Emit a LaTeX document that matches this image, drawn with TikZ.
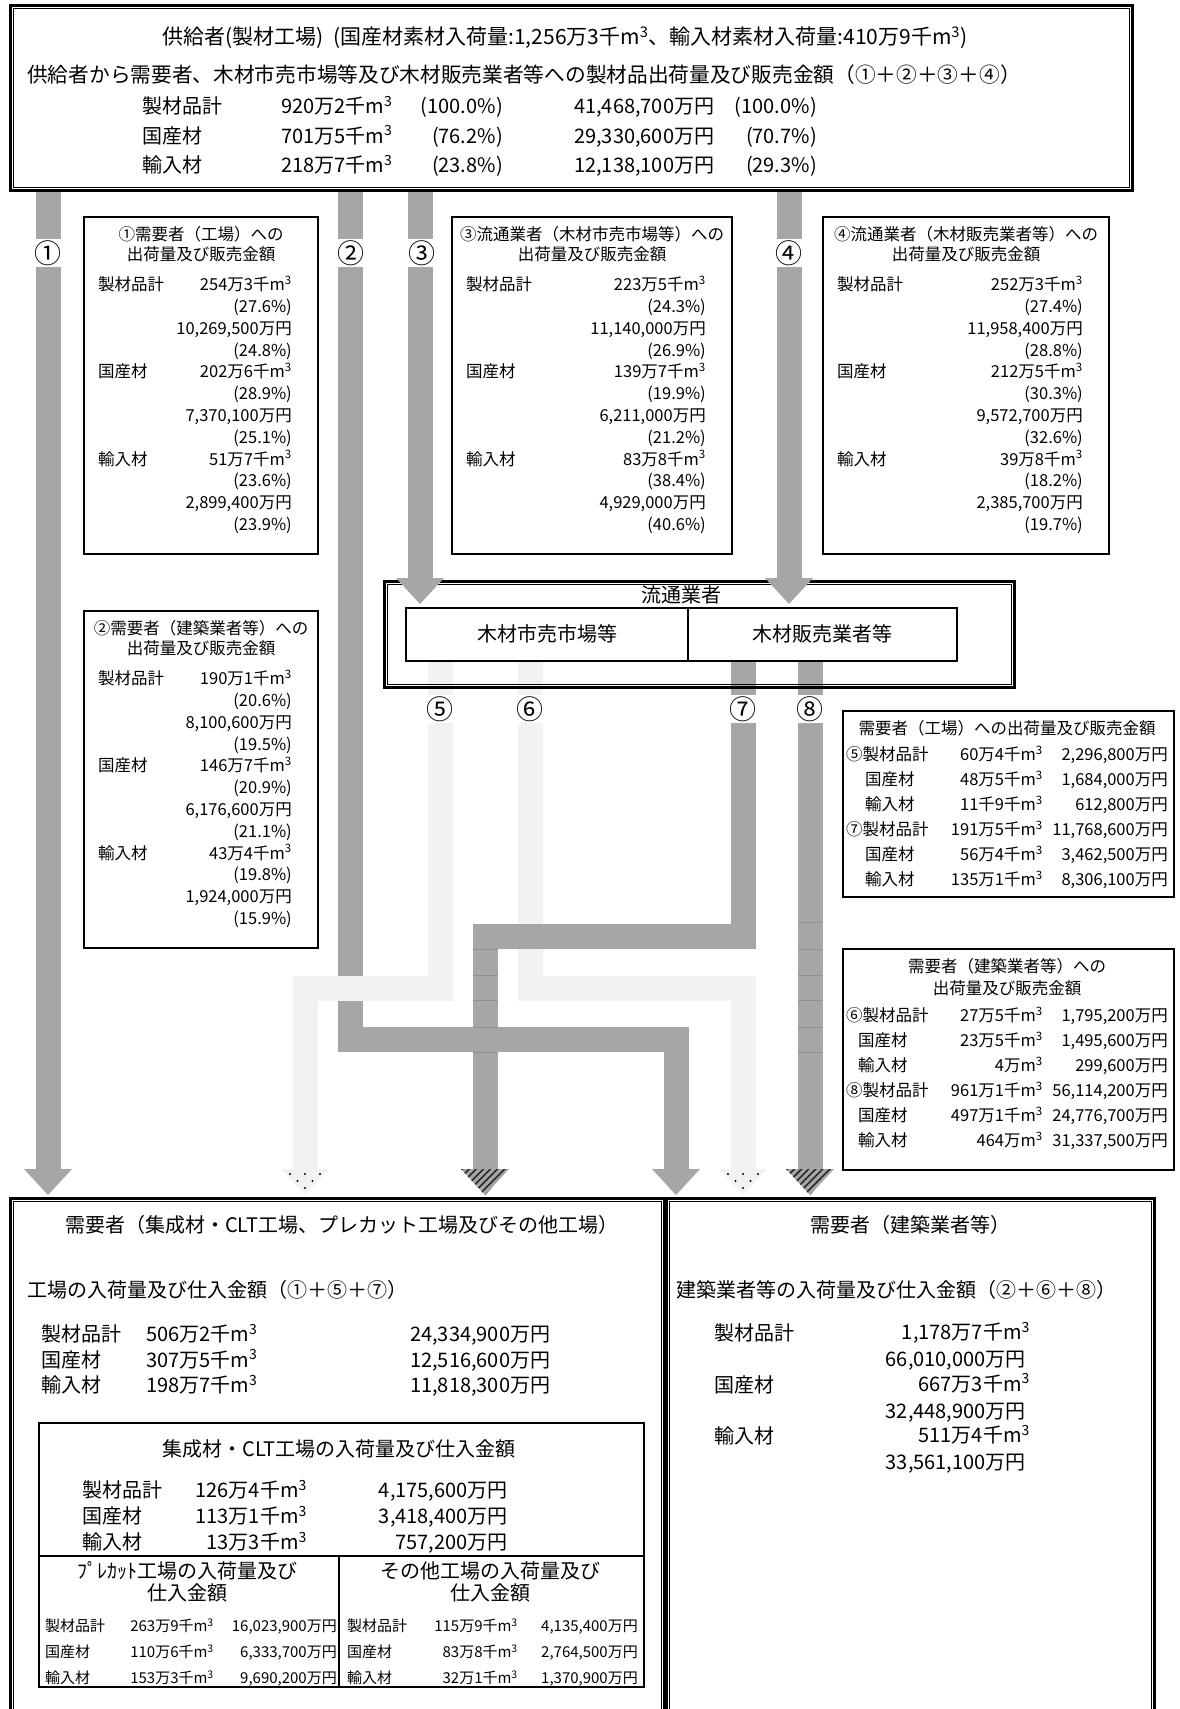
\documentclass[tikz,border=0pt]{standalone}
\usepackage{fontspec}
\setmainfont{Noto Sans CJK JP}
\usetikzlibrary{calc,patterns.meta}

\definecolor{flowgray}{HTML}{A6A6A6}
\definecolor{flowlight}{HTML}{F2F2F2}
\definecolor{seamgray}{HTML}{8F8F8F}

\tikzset{
  flow/.style={draw=flowgray, line width=25pt},
  flowlt/.style={draw=flowlight, line width=25pt},
  seam/.style={draw=seamgray, line width=0.8pt},
  plainbox/.style={draw, line width=2pt, inner sep=0pt, anchor=north west},
  dblbox/.style={draw, line width=3pt, inner sep=0pt, anchor=north west},
  txt/.style={inner sep=0pt, text height=0.75em, text depth=0.2em, yshift=-4pt},
  fa/.style={txt, font=\fontsize{20}{24}\selectfont},
  fb/.style={txt, font=\fontsize{16.5}{20}\selectfont},
  fc/.style={txt, font=\fontsize{15}{18}\selectfont},
  numlbl/.style={fill=white, inner sep=1pt, font=\fontsize{27}{30}\selectfont}
}

\newcommand{\mc}{m\textsuperscript{3}}
% thin inner line of a double framed box
\newcommand{\innerline}[1]{\draw[line width=1pt] ([shift={(4.5,4.5)}]#1.north west) rectangle ([shift={(-4.5,-4.5)}]#1.south east);}
% arrow heads at the end of a flow
\newcommand{\headsolid}[1]{\fill[flowgray] ($(#1)+(-24,0)$) -- ($(#1)+(24,0)$) -- ($(#1)+(0,26)$) -- cycle;}
\newcommand{\headdots}[1]{\fill[flowlight] ($(#1)+(-24,0)$) -- ($(#1)+(24,0)$) -- ($(#1)+(0,26)$) -- cycle;
  \foreach \dx/\dy in {-15/5,0/5,15/5,-7.5/12,7.5/12,0/19} \fill ($(#1)+(\dx,\dy)$) circle (1.1pt);}
\newcommand{\headhatch}[1]{\fill[flowgray] ($(#1)+(-24,0)$) -- ($(#1)+(24,0)$) -- ($(#1)+(0,26)$) -- cycle;
  \fill[pattern={Lines[angle=45,distance=5pt,line width=1.6pt]}, pattern color=black!85] ($(#1)+(-24,0)$) -- ($(#1)+(24,0)$) -- ($(#1)+(0,26)$) -- cycle;}
% shipment box: name, left, top, width, title, rows
\newcommand{\shipbox}[6]{%
  \node[plainbox, minimum width=#4, minimum height=337] (#1) at (#2,#3) {};
  \node[fb] (#1h) at ($(#1.north)+(0,18)$) {#5};
  \node[fb] (#1s) at ($(#1.north)+(0,38)$) {出荷量及び販売金額};
  \foreach \lab/\vol/\pa/\mon/\pb [count=\k from 0] in {#6} {
    \node[fb, anchor=west] (#1l\k) at ($(#1.north west)+(15,{68+87.2*\k})$) {\lab};
    \node[fb, anchor=east] (#1v\k) at ($(#1.north east)+(-27,{68+87.2*\k})$) {\vol\mc};
    \node[fb, anchor=east] (#1p\k) at ($(#1.north east)+(-27,{89.8+87.2*\k})$) {(\pa\%)};
    \node[fb, anchor=east] (#1m\k) at ($(#1.north east)+(-27,{111.6+87.2*\k})$) {\mon{}万円};
    \node[fb, anchor=east] (#1q\k) at ($(#1.north east)+(-27,{133.4+87.2*\k})$) {(\pb\%)};
  }}

\begin{document}
\begin{tikzpicture}[x=1pt, y=-1pt]
\clip (0,0) rectangle (1179,1709);
% flow points
\coordinate (c1a) at (48,189);  \coordinate (c1b) at (48,1169);
\coordinate (c2a) at (350,189); \coordinate (c2b) at (350,1039);
\coordinate (c2c) at (676,1039); \coordinate (c2d) at (676,1169);
\coordinate (c3a) at (420,189); \coordinate (c3b) at (420,578);
\coordinate (c4a) at (789,189); \coordinate (c4b) at (789,578);
\coordinate (c5a) at (440,660); \coordinate (c5b) at (440,988);
\coordinate (c5c) at (305,988); \coordinate (c5d) at (305,1169);
\coordinate (c6a) at (530,660); \coordinate (c6b) at (530,988);
\coordinate (c6c) at (743,988); \coordinate (c6d) at (743,1169);
\coordinate (c7a) at (743,660); \coordinate (c7b) at (743,936);
\coordinate (c7c) at (485,936); \coordinate (c7d) at (485,1169);
\coordinate (c8a) at (810,660); \coordinate (c8b) at (810,1169);

% flows
\draw[flow] (c2a) -- (c2b) -- (c2c) -- (c2d);
\draw[flowlt] (c5a) -- (c5b) -- (c5c) -- (c5d);
\draw[flowlt] (c6a) -- (c6b) -- (c6c) -- (c6d);
\draw[flow] (c7a) -- (c7b) -- (c7c) -- (c7d);
\draw[flow] (c8a) -- (c8b);
\draw[flow] (c1a) -- (c1b);
\draw[flow] (c3a) -- (c3b);
\draw[flow] (c4a) -- (c4b);
\foreach \yy in {922,949,975,1000,1027,1052} \draw[seam] (798,\yy) -- (822,\yy);
\foreach \yy in {949,975,1000,1027,1052} \draw[seam] (472.5,\yy) -- (497.5,\yy);
\headsolid{c1b} \headsolid{c2d}
\headdots{c5d} \headdots{c6d}
\headhatch{c7d} \headhatch{c8b}

% supplier
\node[dblbox, minimum width=1122, minimum height=185] (sup) at (9,4) {};
\innerline{sup}
\node[fa, font=\fontsize{21}{24}\selectfont] (supt) at (565,38) {供給者(製材工場)\ \ (国産材素材入荷量:1,256万3千\mc、輸入材素材入荷量:410万9千\mc)};
\node[fa, anchor=west, font=\fontsize{20.7}{24}\selectfont] (supl) at (27,76) {供給者から需要者、木材市売市場等及び木材販売業者等への製材品出荷量及び販売金額（①＋②＋③＋④）};
\foreach \lab/\vol/\pa/\mon/\pb [count=\k from 0] in {製材品計/920万2千/100.0/{41,468,700}/100.0, 国産材/701万5千/76.2/{29,330,600}/70.7, 輸入材/218万7千/23.8/{12,138,100}/29.3}
{
\node[fa, anchor=west] (supl\k) at (142,{107+29.5*\k}) {\lab};
\node[fa, anchor=west] (supv\k) at (281,{107+29.5*\k}) {\vol\mc};
\node[fa, anchor=east] (supp\k) at (503,{107+29.5*\k}) {(\pa\%)};
\node[fa, anchor=west] (supm\k) at (574,{107+29.5*\k}) {\mon{}万円};
\node[fa, anchor=east] (supq\k) at (817,{107+29.5*\k}) {(\pb\%)};
}

% shipment boxes
\shipbox{b1}{83}{216}{234}{①需要者（工場）への}{製材品計/254万3千/27.6/{10,269,500}/24.8, 国産材/202万6千/28.9/{7,370,100}/25.1, 輸入材/51万7千/23.6/{2,899,400}/23.9}
\shipbox{b2}{83}{610}{234}{②需要者（建築業者等）への}{製材品計/190万1千/20.6/{8,100,600}/19.5, 国産材/146万7千/20.9/{6,176,600}/21.1, 輸入材/43万4千/19.8/{1,924,000}/15.9}
\shipbox{b3}{451}{216}{280}{③流通業者（木材市売市場等）への}{製材品計/223万5千/24.3/{11,140,000}/26.9, 国産材/139万7千/19.9/{6,211,000}/21.2, 輸入材/83万8千/38.4/{4,929,000}/40.6}
\shipbox{b4}{822}{216}{286}{④流通業者（木材販売業者等）への}{製材品計/252万3千/27.4/{11,958,400}/28.8, 国産材/212万5千/30.3/{9,572,700}/32.6, 輸入材/39万8千/18.2/{2,385,700}/19.7}

% distributors
\node[dblbox, minimum width=630, minimum height=106] (dist) at (383,580) {};
\innerline{dist}
\node[fa] (distt) at (681,596) {流通業者};
\node[plainbox, minimum width=282, minimum height=53] (mkt) at (405,607) {};
\node[plainbox, minimum width=269, minimum height=53] (dlr) at (687,607) {};
\node[fa] (mktt) at (mkt.center) {木材市売市場等};
\node[fa] (dlrt) at (dlr.center) {木材販売業者等};
\headsolid{c3b} \headsolid{c4b}

% flow numbers
\foreach \n/\lbl/\px/\py in {n1/①/48/253, n2/②/351/253, n3/③/422/253, n4/④/789/253, n5/⑤/440/709, n6/⑥/530/709, n7/⑦/743/709, n8/⑧/810/709}
\node[numlbl] (\n) at (\px,\py) {\lbl};

% to factories (5, 7)
\node[plainbox, minimum width=331, minimum height=186] (fac) at (842,710) {};
\node[fb] (fach) at (1007,728) {需要者（工場）への出荷量及び販売金額};
\foreach \lx/\lab/\vol/\mon [count=\k from 0] in {846/⑤製材品計/60万4千/{2,296,800}, 865/国産材/48万5千/{1,684,000}, 865/輸入材/11千9千/{612,800}, 846/⑦製材品計/191万5千/{11,768,600}, 865/国産材/56万4千/{3,462,500}, 865/輸入材/135万1千/{8,306,100}}
{
\node[fb, anchor=west] (facl\k) at (\lx,{754+25*\k}) {\lab};
\node[fb, anchor=east] (facv\k) at (1043,{754+25*\k}) {\vol\mc};
\node[fb, anchor=east] (facm\k) at (1168,{754+25*\k}) {\mon{}万円};
}

% to builders (6, 8)
\node[plainbox, minimum width=331, minimum height=221] (bld) at (842,948) {};
\node[fb] (bldh) at (1007,966) {需要者（建築業者等）への};
\node[fb] (blds) at (1007,988) {出荷量及び販売金額};
\foreach \lx/\lab/\vol/\mon [count=\k from 0] in {846/⑥製材品計/27万5千/{1,795,200}, 858/国産材/23万5千/{1,495,600}, 858/輸入材/4万/{299,600}, 846/⑧製材品計/961万1千/{56,114,200}, 858/国産材/497万1千/{24,776,700}, 858/輸入材/464万/{31,337,500}}
{
\node[fb, anchor=west] (bldl\k) at (\lx,{1015+25*\k}) {\lab};
\node[fb, anchor=east] (bldv\k) at (1043,{1015+25*\k}) {\vol\mc};
\node[fb, anchor=east] (bldm\k) at (1168,{1015+25*\k}) {\mon{}万円};
}

% demand: factories
\node[dblbox, minimum width=654, minimum height=540] (dmf) at (9,1197) {};
\innerline{dmf}
\node[fa, anchor=west] (dmft) at (65,1226) {需要者（集成材・CLT工場、プレカット工場及びその他工場）};
\node[fa, anchor=west] (dmfs) at (27,1291) {工場の入荷量及び仕入金額（①＋⑤＋⑦）};
\foreach \lab/\vol/\mon [count=\k from 0] in {製材品計/506万2千/{24,334,900}, 国産材/307万5千/{12,516,600}, 輸入材/198万7千/{11,818,300}}
{
\node[fa, anchor=west] (dmfl\k) at (41,{1335+25.5*\k}) {\lab};
\node[fa, anchor=west] (dmfv\k) at (146,{1335+25.5*\k}) {\vol\mc};
\node[fa, anchor=west] (dmfm\k) at (410,{1335+25.5*\k}) {\mon{}万円};
}

% factory table
\node[draw, line width=1.6pt, inner sep=0pt, anchor=north west, minimum width=605, minimum height=264] (clt) at (38,1422) {};
\draw[line width=1.2pt] (38,1556) -- (643,1556);
\draw[line width=1.2pt] (339,1556) -- (339,1686);
\node[fa] (cltt) at (339,1450) {集成材・CLT工場の入荷量及び仕入金額};
\foreach \lab/\vol/\mon [count=\k from 0] in {製材品計/126万4千/{4,175,600}, 国産材/113万1千/{3,418,400}, 輸入材/13万3千/{757,200}}
{
\node[fa, anchor=west] (cltl\k) at (82,{1491+26*\k}) {\lab};
\node[fa, anchor=east] (cltv\k) at (307,{1491+26*\k}) {\vol\mc};
\node[fa, anchor=east] (cltm\k) at (508,{1491+26*\k}) {\mon{}万円};
}
\node[fa] (pcth) at (187,1572) {ﾌﾟﾚｶｯﾄ工場の入荷量及び};
\node[fa] (pcts) at (187,1594) {仕入金額};
\node[fa] (othh) at (490,1572) {その他工場の入荷量及び};
\node[fa] (oths) at (490,1594) {仕入金額};
\foreach \lab/\vol/\mon [count=\k from 0] in {製材品計/263万9千/{16,023,900}, 国産材/110万6千/{6,333,700}, 輸入材/153万3千/{9,690,200}}
{
\node[fc, anchor=west] (pctl\k) at (45,{1625+26*\k}) {\lab};
\node[fc, anchor=east] (pctv\k) at (214,{1625+26*\k}) {\vol\mc};
\node[fc, anchor=east] (pctm\k) at (337,{1625+26*\k}) {\mon{}万円};
}
\foreach \lab/\vol/\mon [count=\k from 0] in {製材品計/115万9千/{4,135,400}, 国産材/83万8千/{2,764,500}, 輸入材/32万1千/{1,370,900}}
{
\node[fc, anchor=west] (othl\k) at (347,{1625+26*\k}) {\lab};
\node[fc, anchor=east] (othv\k) at (518,{1625+26*\k}) {\vol\mc};
\node[fc, anchor=east] (othm\k) at (638,{1625+26*\k}) {\mon{}万円};
}

% demand: builders
\node[dblbox, minimum width=488, minimum height=540] (dmb) at (665,1197) {};
\innerline{dmb}
\node[fa] (dmbt) at (910,1226) {需要者（建築業者等）};
\node[fa, anchor=west] (dmbs) at (676,1291) {建築業者等の入荷量及び仕入金額（②＋⑥＋⑧）};
\foreach \lab/\vol/\mon [count=\k from 0] in {製材品計/{1,178万7千}/{66,010,000}, 国産材/667万3千/{32,448,900}, 輸入材/511万4千/{33,561,100}}
{
\node[fa, anchor=west] (dmbl\k) at (714,{1334+51.5*\k}) {\lab};
\node[fa, anchor=east] (dmbv\k) at (1030,{1333+51.5*\k}) {\vol\mc};
\node[fa, anchor=east] (dmbm\k) at (1026,{1360+51.5*\k}) {\mon{}万円};
}
\end{tikzpicture}
\end{document}
